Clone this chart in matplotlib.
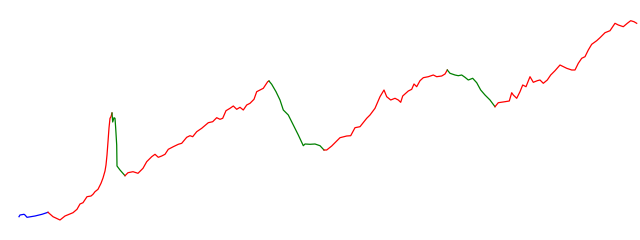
import numpy as np
import matplotlib.pyplot as plt

# Series (x = step, y = level)
x = [19, 20, 24, 25, 27, 29, 35, 42, 48,
     53, 60, 65, 73, 77, 80, 83, 87, 91, 93, 95, 98, 101, 103, 105, 106, 107, 108, 109, 110, 111, 112,
     112.7, 114, 115, 115.7, 116.7, 117, 120, 125,
     128, 133, 138, 143, 146.7, 151.7, 155, 158.3, 161.7, 165, 168.3, 173.3, 178.3, 181.7, 186.7, 190,
     192.7, 196.7, 201.7, 208.3, 212.7, 216.7, 220, 222.7, 226, 230, 233.3, 236.7, 240, 243.3, 246.7,
     250, 254, 256.7, 260, 263.3, 267.7, 269,
     271.7, 276, 280, 283.3, 288.3, 293.3, 298.3, 303.3, 305, 310, 315, 320, 324,
     326.7, 331.7, 340, 346.7, 350.7, 355, 360, 362.7, 366.7, 370, 375, 380, 384, 386.7, 390.7, 395,
     398.3, 400.7, 402.7, 408.3, 411.7, 414, 416.7, 420, 423.3, 428.3, 433.3, 436.7, 441.7, 445, 447.3,
     450, 455, 458.3, 461.7, 465, 468.3, 472.7, 476.7, 480.7, 485, 490, 495,
     498.3, 505, 509.3, 511.7, 513.3, 516.7, 520, 522.7, 526, 530, 533.3, 537.3, 540, 543.3, 547.3,
     550.7, 555, 560, 566.7, 571.7, 575, 578.3, 581.7, 585, 588.3, 591.7, 596.7, 600, 605, 610, 615,
     618.3, 623.3, 627.3, 630.7, 634, 636.7]
y = [216.7, 215, 214.3, 215, 217.3, 217, 216, 214.3, 212.3,
     216.7, 220, 216, 212.7, 209.3, 204, 202.7, 196.7, 196, 194.3, 191.7, 189.3, 183.3, 178, 171, 165, 155, 141.7, 128, 118.3, 116.7, 113,
     122, 117.7, 118.3, 128.3, 145, 166, 170, 175.7,
     172.7, 171.7, 173.3, 168.3, 161.7, 156.7, 154.3, 157.3, 156, 154.3, 149.3, 146.7, 144.3, 143.3, 137.3, 135.7,
     136.7, 131.7, 128.3, 122.7, 121.7, 117.7, 119.3, 118.3, 110.7, 108.3, 106, 109.3, 107.3, 110, 105,
     103.3, 99.3, 91.7, 90, 88.3, 81.7, 81,
     84.3, 91.7, 100, 110, 115, 125, 135, 145.7, 144, 144.3, 144, 145.7, 150,
     150, 146, 137.7, 136, 135.7, 127.7, 126.7, 123.3, 118.3, 115, 108.3, 96.7, 90, 96.7, 100, 98.3,
     100, 102.3, 96, 91, 89.3, 84, 86.7, 80.7, 77.7, 76.7, 75, 76.7, 76, 74, 70,
     73.3, 75, 75.7, 75, 77.3, 80, 78.3, 82.7, 90, 95, 100, 106.7,
     102.7, 101.7, 101, 92.7, 95, 98.3, 91.7, 85, 86.7, 76.7, 82.3, 80.7, 80, 83.3, 80,
     75, 70.7, 65, 68.3, 70, 70, 63.3, 58.3, 56.7, 50, 44.3, 40.7, 37.7, 32.7, 30.7, 23.3,
     25, 26.7, 23.3, 20.7, 21.7, 23.3]
y = [240 - v for v in y]

# trend segments: change points (x) and their colours
breaks = [19, 48, 112, 125, 269, 324, 447.3, 495, 636.7]
seg_colors = ['blue', 'red', 'green', 'red', 'green', 'red', 'green', 'red']

x = np.array(x)
y = np.array(y)

fig = plt.figure(figsize=(6.4, 2.4), dpi=100)
ax = fig.add_axes([0, 0, 1, 1])
for i, c in enumerate(seg_colors):
    m = (x >= breaks[i]) & (x <= breaks[i + 1])
    ax.plot(x[m], y[m], color=c, linewidth=0.9)

ax.set_xlim(0, 640)
ax.set_ylim(0, 240)
ax.axis('off')

fig.savefig('out.png', dpi=100)
